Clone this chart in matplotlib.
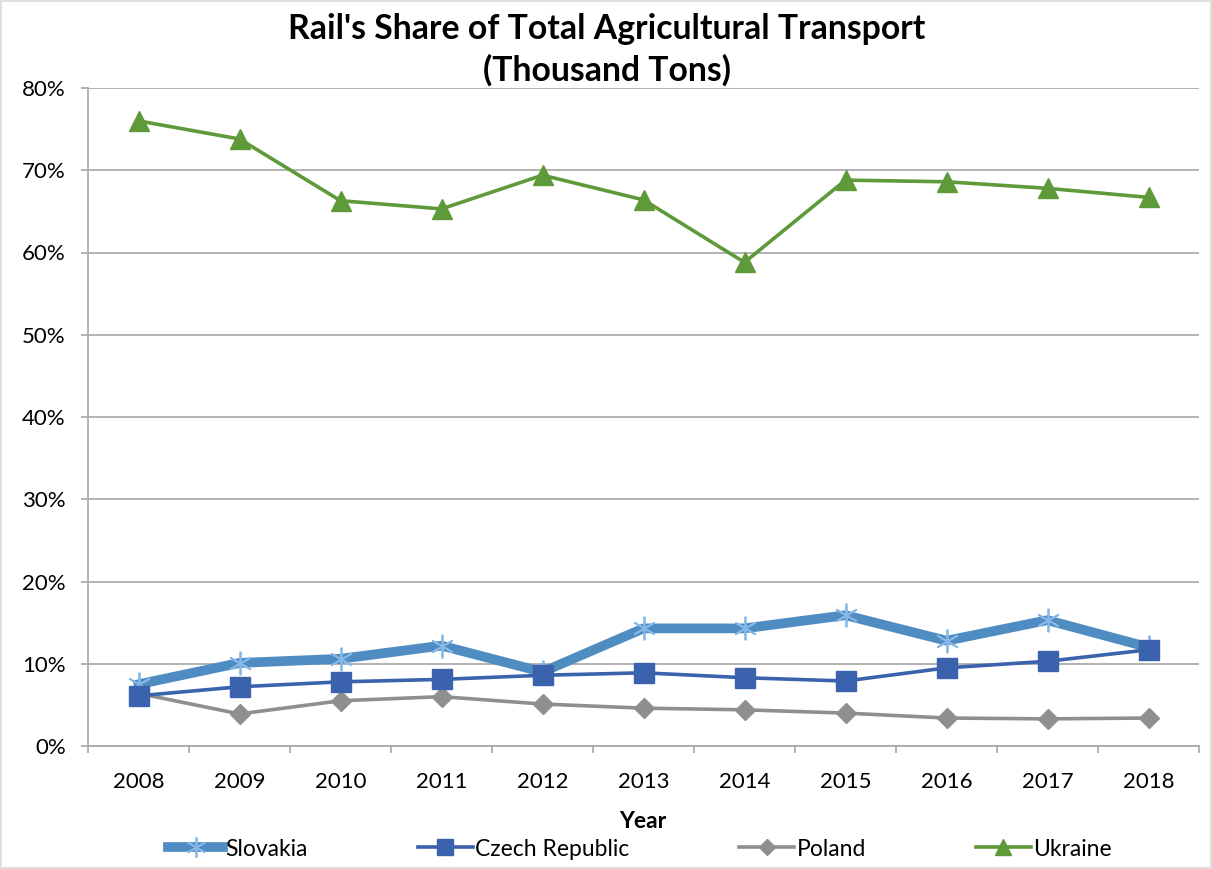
import matplotlib
matplotlib.use("Agg")
import matplotlib.pyplot as plt
from matplotlib.ticker import FuncFormatter, FixedLocator
from matplotlib.patches import Rectangle

years = ["2008", "2009", "2010", "2011", "2012", "2013", "2014", "2015", "2016", "2017", "2018"]
slovakia = [7.5, 10.1, 10.6, 12.2, 9.0, 14.3, 14.3, 15.9, 12.8, 15.3, 12.0]
czech = [6.1, 7.2, 7.8, 8.1, 8.6, 8.9, 8.3, 7.9, 9.5, 10.3, 11.7]
poland = [6.4, 3.9, 5.5, 6.0, 5.1, 4.6, 4.4, 4.0, 3.4, 3.3, 3.4]
ukraine = [76.0, 73.8, 66.3, 65.3, 69.4, 66.4, 58.8, 68.8, 68.6, 67.8, 66.7]

plt.rcParams['font.family'] = ['Lato', 'DejaVu Sans']

fig = plt.figure(figsize=(12.12, 8.69), dpi=100)
ax = fig.add_axes([88/1212, 1-746/869, (1199-88)/1212, (746-88)/869])

x = list(range(len(years)))
ax.plot(x, slovakia, color='#4F8CC2', lw=7, marker=(6, 2, 0), ms=17,
        mec='#85B8E6', mew=1.3, label='Slovakia', zorder=3)
ax.plot(x, czech, color='#3A62AD', lw=2.6, marker='s', ms=14,
        mfc='#3A62AD', mec='#3A62AD', label='Czech Republic', zorder=4)
ax.plot(x, poland, color='#8F8F8F', lw=2.6, marker='D', ms=10,
        mfc='#8F8F8F', mec='#8F8F8F', label='Poland', zorder=2)
ax.plot(x, ukraine, color='#5E9A3A', lw=2.6, marker='^', ms=14,
        mfc='#5E9A3A', mec='#5E9A3A', label='Ukraine', zorder=3)

ax.set_xlim(-0.5, len(years) - 0.5)
ax.set_ylim(0, 80)
ax.set_yticks(range(0, 81, 10))
ax.yaxis.set_major_formatter(FuncFormatter(lambda v, p: f"{int(v)}%"))
ax.set_xticks(x)
ax.set_xticklabels(years)
ax.xaxis.set_minor_locator(FixedLocator([i - 0.5 for i in range(len(years) + 1)]))
ax.tick_params(axis='x', which='major', length=0, labelsize=16, pad=19, colors='#000000')
ax.tick_params(axis='x', which='minor', length=5, color='#A6A6A6', width=1.2)
ax.tick_params(axis='y', length=5, color='#A6A6A6', width=1.2, labelsize=16, pad=11)
ax.grid(axis='y', color='#A6A6A6', lw=1.2, zorder=0)
ax.set_axisbelow(True)
for s in ['top', 'right']:
    ax.spines[s].set_visible(False)
ax.spines['left'].set_color('#A6A6A6')
ax.spines['bottom'].set_color('#A6A6A6')
ax.spines['left'].set_linewidth(1.2)
ax.spines['bottom'].set_linewidth(1.2)

fig.text(607/1212, 1-50/869, "Rail's Share of Total Agricultural Transport\n(Thousand Tons)",
         ha='center', va='center', fontsize=24.3, fontweight='bold', linespacing=1.35)
fig.text(643/1212, 1-822/869, "Year", ha='center', va='center', fontsize=16.5, fontweight='bold')

fig.legend(loc='center', bbox_to_anchor=(640/1212, 1-849/869), ncol=4, frameon=False,
           fontsize=16.5, handlelength=2.4, columnspacing=4.8, handletextpad=0.1,
           markerscale=0.85)

fig.patches.append(Rectangle((1/1212, 1/869), 1-2/1212, 1-2/869, transform=fig.transFigure,
                             fill=False, edgecolor='#D9D9D9', lw=1.2))

fig.savefig('out.png', dpi=100)
